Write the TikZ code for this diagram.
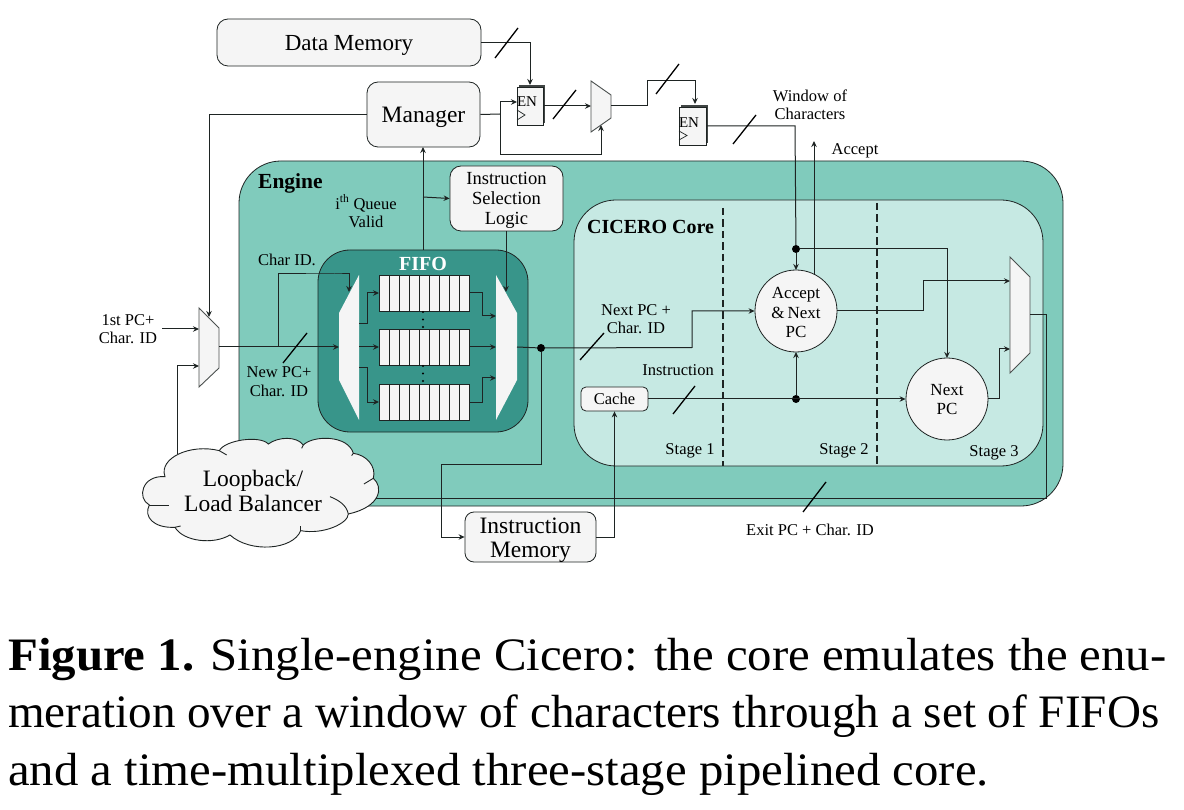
\documentclass[tikz,border=0pt]{standalone}
\usepackage{fontspec}
\setmainfont{Liberation Serif}
\usetikzlibrary{arrows.meta,calc}
\definecolor{paper}{HTML}{F5F5F5}
\definecolor{enginec}{HTML}{80CBBC}
\definecolor{corec}{HTML}{C6E9E3}
\definecolor{fifoc}{HTML}{38958A}
\definecolor{ink}{HTML}{1E2423}
\newcommand{\fs}[1]{\fontsize{#1}{#1}\selectfont}
\newcommand{\Tx}[2]{\raisebox{#1}[0pt][0pt]{\begin{tabular}{@{}c@{}}#2\end{tabular}}}
\tikzset{
  x=1pt,y=-1pt,
  wire/.style={draw=ink,line width=1pt},
  arr/.style={wire,-{Stealth[length=6pt,width=5.5pt]}},
  slashline/.style={draw=black,line width=1.3pt},
  box/.style={draw=ink,fill=paper,line width=0.8pt,rounded corners=#1,inner sep=0pt,align=center,text=black},
  box/.default=11pt,
  muxs/.style={draw=ink!80,fill=paper,line width=0.9pt},
  disc/.style={circle,draw=ink,fill=paper,line width=0.8pt,minimum size=82pt,inner sep=0pt,align=center,font=\fs{17},text=black},
  dotn/.style={circle,fill=black,inner sep=0pt,minimum size=8pt},
  lab/.style={inner sep=0pt,align=center,font=\fs{16.5},text=black},
  reg/.style={draw=ink,fill=paper,line width=0.8pt,inner sep=0pt,minimum width=26pt,minimum height=38pt},
  cell/.style={draw=ink,fill=paper,line width=0.7pt},
  captext/.style={inner sep=0pt,anchor=base west,font=\fs{46.5},text=black},
  stagedash/.style={draw=ink,line width=1.6pt,dash pattern=on 7.5pt off 4pt},
}
\begin{document}
\begin{tikzpicture}
\useasboundingbox (0,0) rectangle (1184,810);
\fill[white] (0,0) rectangle (1184,810);

% containers
\draw[draw=ink,line width=0.8pt,fill=enginec,rounded corners=42pt] (239,161) rectangle (1063,506);
\draw[draw=ink,line width=0.8pt,fill=corec,rounded corners=42pt] (574,200) rectangle (1043,466);
\draw[stagedash] (723,208) -- (723,466);
\draw[stagedash] (877,203) -- (877,466);
\draw[draw=ink,line width=0.8pt,fill=fifoc,rounded corners=32pt] (318,250) rectangle (528,432);

% boxes
\node[box,minimum width=264pt,minimum height=47pt,font=\fs{23}] (dm) at (349,42.5) {\Tx{-10pt}{Data Memory}};
\node[box,minimum width=113pt,minimum height=65pt,font=\fs{23.5}] (mgr) at (423.5,114.5) {\Tx{-10pt}{Manager}};
\node[box,minimum width=113pt,minimum height=65pt,font=\fs{18.5}] (isl) at (506.5,198.5) {\Tx{-7pt}{Instruction\\[1.5pt]Selection\\[1.5pt]Logic}};
\node[box=9pt,minimum width=131pt,minimum height=50pt,font=\fs{23.5}] (imem) at (530.5,537) {\Tx{-10pt}{Instruction\\Memory}};
\node[box=5pt,minimum width=67pt,minimum height=24pt,font=\fs{16.5}] (cache) at (614.5,399) {\Tx{-7pt}{Cache}};
\node[disc] (acc) at (796,311) {\Tx{-8pt}{Accept\\[2.5pt]\&\,Next\\[2.5pt]PC}};
\node[disc] (npc) at (947,399) {\Tx{-7pt}{Next\\[2pt]PC}};

% registers
\fill[ink!85] (519,85) rectangle (545,123);
\node[reg] (r1) at (530,106) {};
\fill[ink!85] (681,105) rectangle (708,143);
\node[reg,minimum width=27pt] (r2) at (692.5,126) {};
\node[inner sep=0pt,font=\fs{15}] (en1) at (527,101.5) {EN};
\node[inner sep=0pt,font=\fs{15}] (en2) at (689,123) {EN};
\draw[ink,line width=0.7pt] (517,110) -- (525,115) -- (517,120);
\draw[ink,line width=0.7pt] (679,131) -- (687,135.5) -- (679,140);

% muxes
\draw[muxs] (199,308) -- (219,328) -- (219,368) -- (199,387) -- cycle;
\draw[muxs] (591,81) -- (611,95) -- (611,118) -- (591,132) -- cycle;
\draw[muxs] (1010,257) -- (1030,277) -- (1030,353) -- (1010,373) -- cycle;
\draw[muxs,draw=none] (339,313) -- (359,275) -- (359,420) -- (339,380) -- cycle;
\draw[muxs,draw=none] (496,275) -- (517,313) -- (517,380) -- (496,420) -- cycle;

% FIFO cells
\foreach \t/\n in {275/a,329/b,384/c}{
  \foreach \i in {0,...,8}{
    \draw[cell] ({379+10*\i},\t) rectangle ++(10,36);
  }
  \coordinate (q\n W) at (379,\t+18);
  \coordinate (q\n E) at (469,\t+18);
}
\foreach \y in {312,319.5,327,366,373.5,381}{
  \fill[black] (423,\y) circle (1.2pt);
}

% pins
\coordinate (m1out) at (219,347);
\coordinate (m1a) at (199,329);
\coordinate (m1b) at (199,366);
\coordinate (m1top) at (209,317);
\coordinate (m1src) at (162,329);
\coordinate (dmin) at (339,347);
\coordinate (dmtop) at (349,292);
\coordinate (dma) at (359,324);
\coordinate (dmb) at (359,347);
\coordinate (dmc) at (359,368);
\coordinate (mxa) at (496,316);
\coordinate (mxb) at (496,347);
\coordinate (mxc) at (496,378);
\coordinate (mxout) at (517,347);
\coordinate (mxtop) at (506,292);
\coordinate (m2out) at (611,106);
\coordinate (m2in) at (591,106);
\coordinate (m2bot) at (601,125);
\coordinate (r1in) at (517,102);
\coordinate (r1out) at (543,106);
\coordinate (r1top) at (530,85);
\coordinate (r2top) at (695,104);
\coordinate (r2out) at (706,126);
\coordinate (m3a) at (1010,281);
\coordinate (m3b) at (1010,349);
\coordinate (m3out) at (1030,315);
\coordinate (accbot) at (796,352);
\coordinate (acctop) at (796,270);
\coordinate (npctop) at (947,358);
\coordinate (acout) at (814,274);
\coordinate (actip) at (814,141);
\coordinate (cloudin) at (177,454);
\coordinate (cloudexit) at (340,498);
\node[dotn] (d1) at (541,348) {};
\node[dotn] (d2) at (796,249) {};
\node[dotn] (d3) at (796,399) {};

% wires
\draw[arr] (dm.east) -| (r1top);
\draw[arr] (r1out) -- (m2in);
\draw[arr] (m2out) -- (647,106) -- (647,81) -| (r2top);
\draw[wire] (mgr.east) -- (500,114);
\draw[arr] (500,114) |- (r1in);
\draw[arr] (500,114) -- (500,155) -| (m2bot);
\draw[arr] (mgr.west) -| (m1top);
\draw[arr] (m1src) -- (m1a);
\draw[arr] (cloudin) |- (m1b);
\draw[arr] (m1out) -- (dmin);
\draw[arr] (278,347) |- (335,274) -- (349,274) -- (dmtop);
\draw[arr] (dma) -- (367,324) |- (qaW);
\draw[arr] (dmb) -- (qbW);
\draw[arr] (dmc) -- (367,368) |- (qcW);
\draw[arr] (qaE) -- (482,293) |- (mxa);
\draw[arr] (qbE) -- (mxb);
\draw[arr] (qcE) -- (482,402) |- (mxc);
\draw[arr] (isl.south -| mxtop) -- (mxtop);
\draw[arr] (423,250) -- (423,147);
\draw[arr] (423,197) -- (isl.west);
\draw[wire] (mxout) -- (d1);
\draw[arr] (d1) -- (692,347.5) |- (acc.west);
\draw[arr] (d1) -- (541,464) -- (441,464) |- (imem.west);
\draw[arr] (imem.east) -| (cache.south);
\draw[arr] (cache.east) -- (npc.west);
\draw[arr] (d3) -- (accbot);
\draw[wire] (r2out) -- (795,126) -- (d2);
\draw[arr] (d2) -- (acctop);
\draw[arr] (d2) -| (npctop);
\draw[arr] (acout) -- (actip);
\draw[arr] (acc.east) -- (923,311) |- (m3a);
\draw[arr] (npc.east) -- (999,399) |- (m3b);
\draw[wire] (m3out) -- (1046,315) -- (1046,498) -- (cloudexit);

% bus slashes
\foreach \a/\b/\c/\d in {495/58/518/28, 553/119/576/90, 656/94/679/64, 733/144/756/115, 283/363/307/333, 580/360/604/333, 673/414/695/386, 803/512/826/482}{
  \draw[slashline] (\a,\b) -- (\c,\d);
}

% cloud
\begin{scope}[shift={(90,290)},x=0.3333pt,y=-0.3333pt]
\draw[draw=ink,line width=0.9pt,fill=paper]
 (225,560) .. controls (205,505) and (300,460) .. (388,482)
 .. controls (405,450) and (510,435) .. (535,462)
 .. controls (565,440) and (620,438) .. (640,465)
 .. controls (670,435) and (775,435) .. (790,490)
 .. controls (830,495) and (860,530) .. (850,565)
 .. controls (880,590) and (875,650) .. (775,672)
 .. controls (775,700) and (700,735) .. (632,722)
 .. controls (610,780) and (480,790) .. (420,735)
 .. controls (370,765) and (280,755) .. (255,712)
 .. controls (190,715) and (160,680) .. (178,645)
 .. controls (140,625) and (155,555) .. (225,560) -- cycle;
\draw[draw=ink,line width=0.9pt] (388,482) -- (410,495);
\draw[draw=ink,line width=0.9pt] (640,465) -- (635,475);
\draw[draw=ink,line width=0.9pt] (790,490) -- (785,497);
\draw[draw=ink,line width=0.9pt] (850,565) -- (822,582);
\draw[draw=ink,line width=0.9pt] (775,672) .. controls (770,645) and (745,630) .. (720,620);
\draw[draw=ink,line width=0.9pt] (632,722) -- (632,708);
\draw[draw=ink,line width=0.9pt] (255,712) -- (272,708);
\draw[draw=ink,line width=0.9pt] (178,645) -- (236,645);
\end{scope}
\node[inner sep=0pt,align=center,font=\fs{23.5},text=black] (cloudlab) at (253,491) {Loopback/\\[1.5pt]Load Balancer};

% labels
\node[inner sep=0pt,anchor=west,font=\bfseries\fs{21.5},text=black] (lengine) at (258,183) {Engine};
\node[inner sep=0pt,anchor=west,font=\bfseries\fs{20},text=black] (lcore) at (587,227) {CICERO Core};
\node[inner sep=0pt,font=\bfseries\fs{20},text=white] (lfifo) at (423,264) {FIFO};
\node[lab] (lq) at (366,211.5) {i\textsuperscript{th} Queue\\[2pt]Valid};
\node[lab] (lcid) at (287,260) {Char ID.};
\node[lab] (lnew) at (279,381.5) {New PC+\\[2pt]Char. ID};
\node[lab] (lfirst) at (128,329) {1st PC+\\[2pt]Char. ID};
\node[lab] (lnext) at (636,319) {Next PC +\\[2pt]Char. ID};
\node[lab] (linst) at (678,370) {Instruction};
\node[lab] (ls1) at (690,451) {Stage 1};
\node[lab] (ls2) at (844,451) {Stage 2};
\node[lab] (ls3) at (994,453) {Stage 3};
\node[lab] (lwin) at (810,105) {Window of\\[2pt]Characters};
\node[lab] (lacc) at (855,151) {Accept};
\node[lab] (lexit) at (810,530) {Exit PC + Char. ID};

% caption
\node[captext] (c1) at (8,670) {\scalebox{1.05}[1]{\textbf{Figure 1.} Single-engine Cicero: the core emulates the enu-}};
\node[captext] (c2) at (8,727) {\scalebox{1.013}[1]{meration over a window of characters through a set of FIFOs}};
\node[captext] (c3) at (8,785) {\scalebox{1.049}[1]{and a time-multiplexed three-stage pipelined core.}};
\end{tikzpicture}
\end{document}
